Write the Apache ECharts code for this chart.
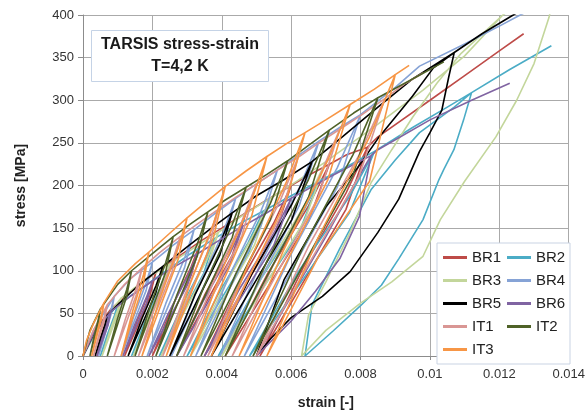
<!DOCTYPE html>
<html>
<head>
<meta charset="utf-8">
<script src="https://cdn.jsdelivr.net/npm/echarts@6/dist/echarts.min.js"></script>
<style>html,body{margin:0;padding:0;background:#fff}#c{width:588px;height:415px}</style>
</head>
<body>
<div id="c"></div>
<script>
const seriesNames = ['BR1','BR2','BR3','BR4','BR5','BR6','IT1','IT2','IT3'];
const xTicks = [0,0.002,0.004,0.006,0.008,0.01,0.012,0.014];
const yTicks = [0,50,100,150,200,250,300,350,400];

const br1 = [[0,0],[0.0003,28],
[0.0008,55],[0.00072,39],[0.00056,19],[0.0004,0],[0.00056,23],[0.00072,43],[0.0008,55],
[0.0014,76],
[0.0021,98],[0.00192,69],[0.00156,34],[0.0012,0],[0.00156,41],[0.00192,76],[0.0021,98],
[0.0027,115],
[0.0034,135],[0.00312,95],[0.00256,47],[0.002,0],[0.00256,57],[0.00312,105],[0.0034,135],
[0.004,150],
[0.0047,168],[0.0043,118],[0.0035,59],[0.0027,0],[0.0035,71],[0.0043,131],[0.0047,168],
[0.0053,183],
[0.006,200],[0.0055,140],[0.0045,70],[0.0035,0],[0.0045,84],[0.0055,156],[0.006,200],
[0.0065,212],
[0.0071,225],[0.0065,158],[0.0053,79],[0.0041,0],[0.0053,95],[0.0065,176],[0.0071,225],
[0.0076,236],
[0.0082,245],[0.00758,172],[0.00634,86],[0.0051,0],[0.00634,103],[0.00758,191],[0.0082,245],
[0.0085,257],[0.01,300],[0.011,329],[0.012,358],[0.0127,378]];

const br2 = [[0,0],[0.0004,30],
[0.001,60],[0.0009,42],[0.0007,21],[0.0005,0],[0.0007,25],[0.0009,47],[0.001,60],
[0.0017,80],
[0.0024,100],[0.0022,70],[0.0018,35],[0.0014,0],[0.0018,42],[0.0022,78],[0.0024,100],
[0.0031,120],
[0.0038,138],[0.00348,97],[0.00284,48],[0.0022,0],[0.00284,58],[0.00348,108],[0.0038,138],
[0.0045,155],
[0.0052,170],[0.00476,119],[0.00388,60],[0.003,0],[0.00388,71],[0.00476,133],[0.0052,170],
[0.006,188],
[0.0068,205],[0.00622,144],[0.00506,72],[0.0039,0],[0.00506,86],[0.00622,160],[0.0068,205],
[0.0076,222],
[0.0084,240],[0.00768,168],[0.00624,84],[0.0048,0],[0.00624,101],[0.00768,187],[0.0084,240],
[0.0095,268],[0.0105,292],
[0.0112,309],[0.01097,277],[0.01069,242],[0.0104,219],[0.01026,207],[0.0098,160],[0.0091,114],[0.0086,83],[0.008,59],[0.0072,29],[0.0064,0],
[0.0066,60],[0.0074,126],[0.0083,195],[0.009,230],[0.0097,262],[0.0107,292],[0.0112,309],
[0.0123,336],[0.0135,364]];

const br3 = [[0,0],[0.0004,32],
[0.0011,68],[0.00099,48],[0.00077,24],[0.00055,0],[0.00077,29],[0.00099,53],[0.0011,68],
[0.0018,90],
[0.0025,108],[0.00229,76],[0.00187,38],[0.00145,0],[0.00187,45],[0.00229,84],[0.0025,108],
[0.0032,127],
[0.0039,145],[0.00357,102],[0.00291,51],[0.00225,0],[0.00291,61],[0.00357,113],[0.0039,145],
[0.0046,165],
[0.0054,185],[0.00494,130],[0.00402,65],[0.0031,0],[0.00402,78],[0.00494,144],[0.0054,185],
[0.0062,206],
[0.007,228],[0.0064,160],[0.0052,80],[0.004,0],[0.0052,96],[0.0064,178],[0.007,228],
[0.0085,272],[0.0098,312],[0.011,352],[0.0121,400],[0.0137,445],
[0.01343,397],[0.013,343],[0.0125,300],[0.0119,257],[0.011,205],[0.0103,160],[0.0098,117],[0.0089,87],[0.008,62],[0.007,30],[0.0063,0],
[0.0065,48],[0.007,87],[0.0077,145],[0.0083,203],[0.0089,242],[0.0095,280],[0.0102,320],[0.0109,355],[0.0121,400],[0.0128,420]];

const br4 = [[0,0],[0.0003,30],
[0.0009,70],[0.00081,49],[0.00063,25],[0.00045,0],[0.00063,29],[0.00081,55],[0.0009,70],
[0.0014,92],
[0.002,110],[0.00182,77],[0.00146,39],[0.0011,0],[0.00146,46],[0.00182,86],[0.002,110],
[0.0026,130],
[0.0032,148],[0.00293,104],[0.00239,52],[0.00185,0],[0.00239,62],[0.00293,115],[0.0032,148],
[0.0038,167],
[0.0044,185],[0.00403,130],[0.00329,65],[0.00255,0],[0.00329,78],[0.00403,144],[0.0044,185],
[0.005,202],
[0.0056,218],[0.00513,153],[0.00419,76],[0.00325,0],[0.00419,92],[0.00513,170],[0.0056,218],
[0.0062,235],
[0.0068,252],[0.00623,176],[0.00509,88],[0.00395,0],[0.00509,106],[0.00623,197],[0.0068,252],
[0.0074,268],
[0.008,283],[0.00733,198],[0.00599,99],[0.00465,0],[0.00599,119],[0.00733,221],[0.008,283],
[0.009,315],[0.0097,340],[0.011,366],[0.012,387],[0.0126,400],[0.0129,406]];

const br5 = [[0,0],[0.0003,25],
[0.0007,48],[0.00063,34],[0.00049,17],[0.00035,0],[0.00049,20],[0.00063,37],[0.0007,48],
[0.001,60],[0.0016,83],
[0.0023,105],[0.0021,74],[0.0017,37],[0.0013,0],[0.0017,44],[0.0021,82],[0.0023,105],
[0.003,128],[0.0037,150],
[0.0043,168],[0.00394,118],[0.00322,59],[0.0025,0],[0.00322,71],[0.00394,131],[0.0043,168],
[0.005,188],[0.0058,207],
[0.0066,228],[0.00602,160],[0.00486,80],[0.0037,0],[0.00486,96],[0.00602,178],[0.0066,228],
[0.0075,258],[0.0085,292],[0.0095,325],
[0.0107,356],[0.01054,327],[0.01034,288],[0.01,262],[0.0097,240],[0.0091,184],[0.0085,145],[0.0077,99],[0.0069,70],[0.006,45],[0.0054,20],[0.005,0],
[0.0058,90],[0.007,175],[0.0079,220],[0.0085,255],[0.0095,305],[0.0101,338],[0.0107,356],
[0.0115,378],[0.0124,400],[0.0128,410]];

const br6 = [[0,0],[0.0003,26],
[0.0008,52],[0.00072,36],[0.00056,18],[0.0004,0],[0.00056,22],[0.00072,41],[0.0008,52],
[0.0014,71],
[0.002,88],[0.00183,62],[0.00149,31],[0.00115,0],[0.00149,37],[0.00183,69],[0.002,88],
[0.0026,104],
[0.0033,120],[0.00302,84],[0.00246,42],[0.0019,0],[0.00246,50],[0.00302,94],[0.0033,120],
[0.0039,135],
[0.0046,152],[0.00422,106],[0.00346,53],[0.0027,0],[0.00346,64],[0.00422,119],[0.0046,152],
[0.0053,168],
[0.006,185],[0.0055,130],[0.0045,65],[0.0035,0],[0.0045,78],[0.0055,144],[0.006,185],
[0.0072,212],
[0.0083,235],[0.00797,164],[0.0074,114],[0.0067,76],[0.006,41],[0.005,0],[0.006,70],[0.007,140],[0.0078,200],[0.0083,235],
[0.0085,242],[0.01,277],[0.0112,300],[0.0123,320]];

const it1 = [[0,0],[0.0003,30],
[0.0007,60],[0.00062,42],[0.00046,21],[0.0003,0],[0.00046,25],[0.00062,47],[0.0007,60],
[0.0012,84],
[0.0017,103],[0.00154,72],[0.00122,36],[0.0009,0],[0.00122,43],[0.00154,80],[0.0017,103],
[0.0022,121],
[0.0028,140],[0.00256,98],[0.00208,49],[0.0016,0],[0.00208,59],[0.00256,109],[0.0028,140],
[0.0033,155],
[0.0039,172],[0.00358,120],[0.00294,60],[0.0023,0],[0.00294,72],[0.00358,134],[0.0039,172],
[0.0044,186],
[0.005,202],[0.00458,141],[0.00374,71],[0.0029,0],[0.00374,85],[0.00458,158],[0.005,202],
[0.0056,218],
[0.0062,233],[0.00568,163],[0.00464,82],[0.0036,0],[0.00464,98],[0.00568,182],[0.0062,233],
[0.0068,250],
[0.0074,266],[0.00678,186],[0.00554,93],[0.0043,0],[0.00554,112],[0.00678,207],[0.0074,266],
[0.008,282],
[0.0087,302],[0.00796,211],[0.00648,106],[0.005,0],[0.00648,127],[0.00796,236],[0.0087,302],
[0.0093,320],[0.0098,332]];

const it2 = [[0,0],[0.0002,30],
[0.0005,55],[0.00044,39],[0.00032,19],[0.0002,0],[0.00032,23],[0.00044,43],[0.0005,55],
[0.001,84],
[0.0014,100],[0.00126,70],[0.00098,35],[0.0007,0],[0.00098,42],[0.00126,78],[0.0014,100],
[0.002,120],
[0.0026,140],[0.00238,98],[0.00194,49],[0.0015,0],[0.00194,59],[0.00238,109],[0.0026,140],
[0.0031,155],
[0.0036,169],[0.0033,118],[0.0027,59],[0.0021,0],[0.0027,71],[0.0033,132],[0.0036,169],
[0.0041,183],
[0.0047,198],[0.0043,139],[0.0035,69],[0.0027,0],[0.0035,83],[0.0043,154],[0.0047,198],
[0.0053,213],
[0.0059,229],[0.0054,160],[0.0044,80],[0.0034,0],[0.0044,96],[0.0054,179],[0.0059,229],
[0.0065,247],
[0.0071,265],[0.0065,186],[0.0053,93],[0.0041,0],[0.0053,111],[0.0065,207],[0.0071,265],
[0.0078,285],
[0.0085,303],[0.00778,212],[0.00634,106],[0.0049,0],[0.00634,127],[0.00778,236],[0.0085,303],
[0.0095,325],[0.0104,345]];

const it3 = [[0,0],[0.0001,18],[0.0003,38],
[0.0006,62],[0.00053,43],[0.00039,22],[0.00025,0],[0.00039,26],[0.00053,48],[0.0006,62],
[0.001,88],[0.0015,108],
[0.0019,122],[0.00174,85],[0.00142,43],[0.0011,0],[0.00142,51],[0.00174,95],[0.0019,122],
[0.0025,144],
[0.003,162],[0.00274,113],[0.00222,57],[0.0017,0],[0.00222,68],[0.00274,126],[0.003,162],
[0.0035,179],
[0.0041,199],[0.00376,139],[0.00308,70],[0.0024,0],[0.00308,84],[0.00376,155],[0.0041,199],
[0.0047,217],
[0.0053,234],[0.00486,164],[0.00398,82],[0.0031,0],[0.00398,98],[0.00486,183],[0.0053,234],
[0.0059,250],
[0.0064,262],[0.00586,183],[0.00478,92],[0.0037,0],[0.00478,110],[0.00586,204],[0.0064,262],
[0.007,277],
[0.0077,295],[0.00706,207],[0.00578,103],[0.0045,0],[0.00578,124],[0.00706,230],[0.0077,295],
[0.0084,313],
[0.009,330],[0.00826,205],[0.00678,116],[0.0053,0],[0.00678,139],[0.00826,257],[0.009,330],
[0.0094,341]];

const seriesData = [br1, br2, br3, br4, br5, br6, it1, it2, it3];
const seriesColors = ['#be4b48','#4bacc6','#c3d69b','#86a3d6','#000000','#8064a2','#d99694','#4f6228','#f79646'];

const chart = echarts.init(document.getElementById('c'), null, {renderer: 'canvas'});
const FONT = 'Liberation Sans, Arial, sans-serif';
chart.setOption({
  animation: false,
  backgroundColor: '#fff',
  textStyle: {fontFamily: FONT},
  title: {
    text: 'TARSIS stress-strain\nT=4,2 K',
    left: 170, top: 30,
    textAlign: 'center',
    padding: [4, 10],
    backgroundColor: '#fff',
    borderColor: '#c5d3e6',
    borderWidth: 1,
    textStyle: {fontSize: 16, fontWeight: 'bold', color: '#1a1a1a', lineHeight: 22, fontFamily: FONT}
  },
  legend: {
    data: seriesNames,
    left: 437, top: 243,
    width: 126,
    orient: 'horizontal',
    icon: 'rect',
    itemWidth: 24, itemHeight: 3, itemGap: 4,
    padding: [5, 3, 5, 6],
    backgroundColor: '#fff',
    borderColor: '#c9d3e3', borderWidth: 1,
    textStyle: {fontSize: 15, color: '#222', width: 31, lineHeight: 19, fontFamily: FONT}
  },
  grid: {left: 83, right: 15, top: 15, bottom: 57, containLabel: false},
  xAxis: {
    type: 'value', min: xTicks[0], max: xTicks[xTicks.length-1], interval: 0.002,
    name: 'strain [-]', nameLocation: 'middle', nameGap: 40,
    nameTextStyle: {fontSize: 14, fontWeight: 'bold', color: '#222'},
    axisLine: {lineStyle: {color: '#8c8c8c'}},
    axisTick: {show: true, length: 4, lineStyle: {color: '#8c8c8c'}},
    axisLabel: {fontSize: 13, color: '#333', margin: 12, formatter: v => String(+v.toFixed(3))},
    splitLine: {show: true, lineStyle: {color: '#aaaaaa', width: 1}}
  },
  yAxis: {
    type: 'value', min: yTicks[0], max: yTicks[yTicks.length-1], interval: 50,
    name: 'stress [MPa]', nameLocation: 'middle', nameGap: 55,
    nameTextStyle: {fontSize: 14, fontWeight: 'bold', color: '#222'},
    axisLine: {show: true, lineStyle: {color: '#8c8c8c'}},
    axisTick: {show: true, length: 5, lineStyle: {color: '#8c8c8c'}},
    axisLabel: {fontSize: 13, color: '#333', margin: 9},
    splitLine: {show: true, lineStyle: {color: '#aaaaaa', width: 1}}
  },
  series: seriesNames.map((n, i) => ({
    name: n, type: 'line', data: seriesData[i],
    showSymbol: false, symbol: 'none', clip: true,
    color: seriesColors[i],
    lineStyle: {width: 1.6, color: seriesColors[i]},
    emphasis: {disabled: true}
  }))
});
</script>
</body>
</html>
